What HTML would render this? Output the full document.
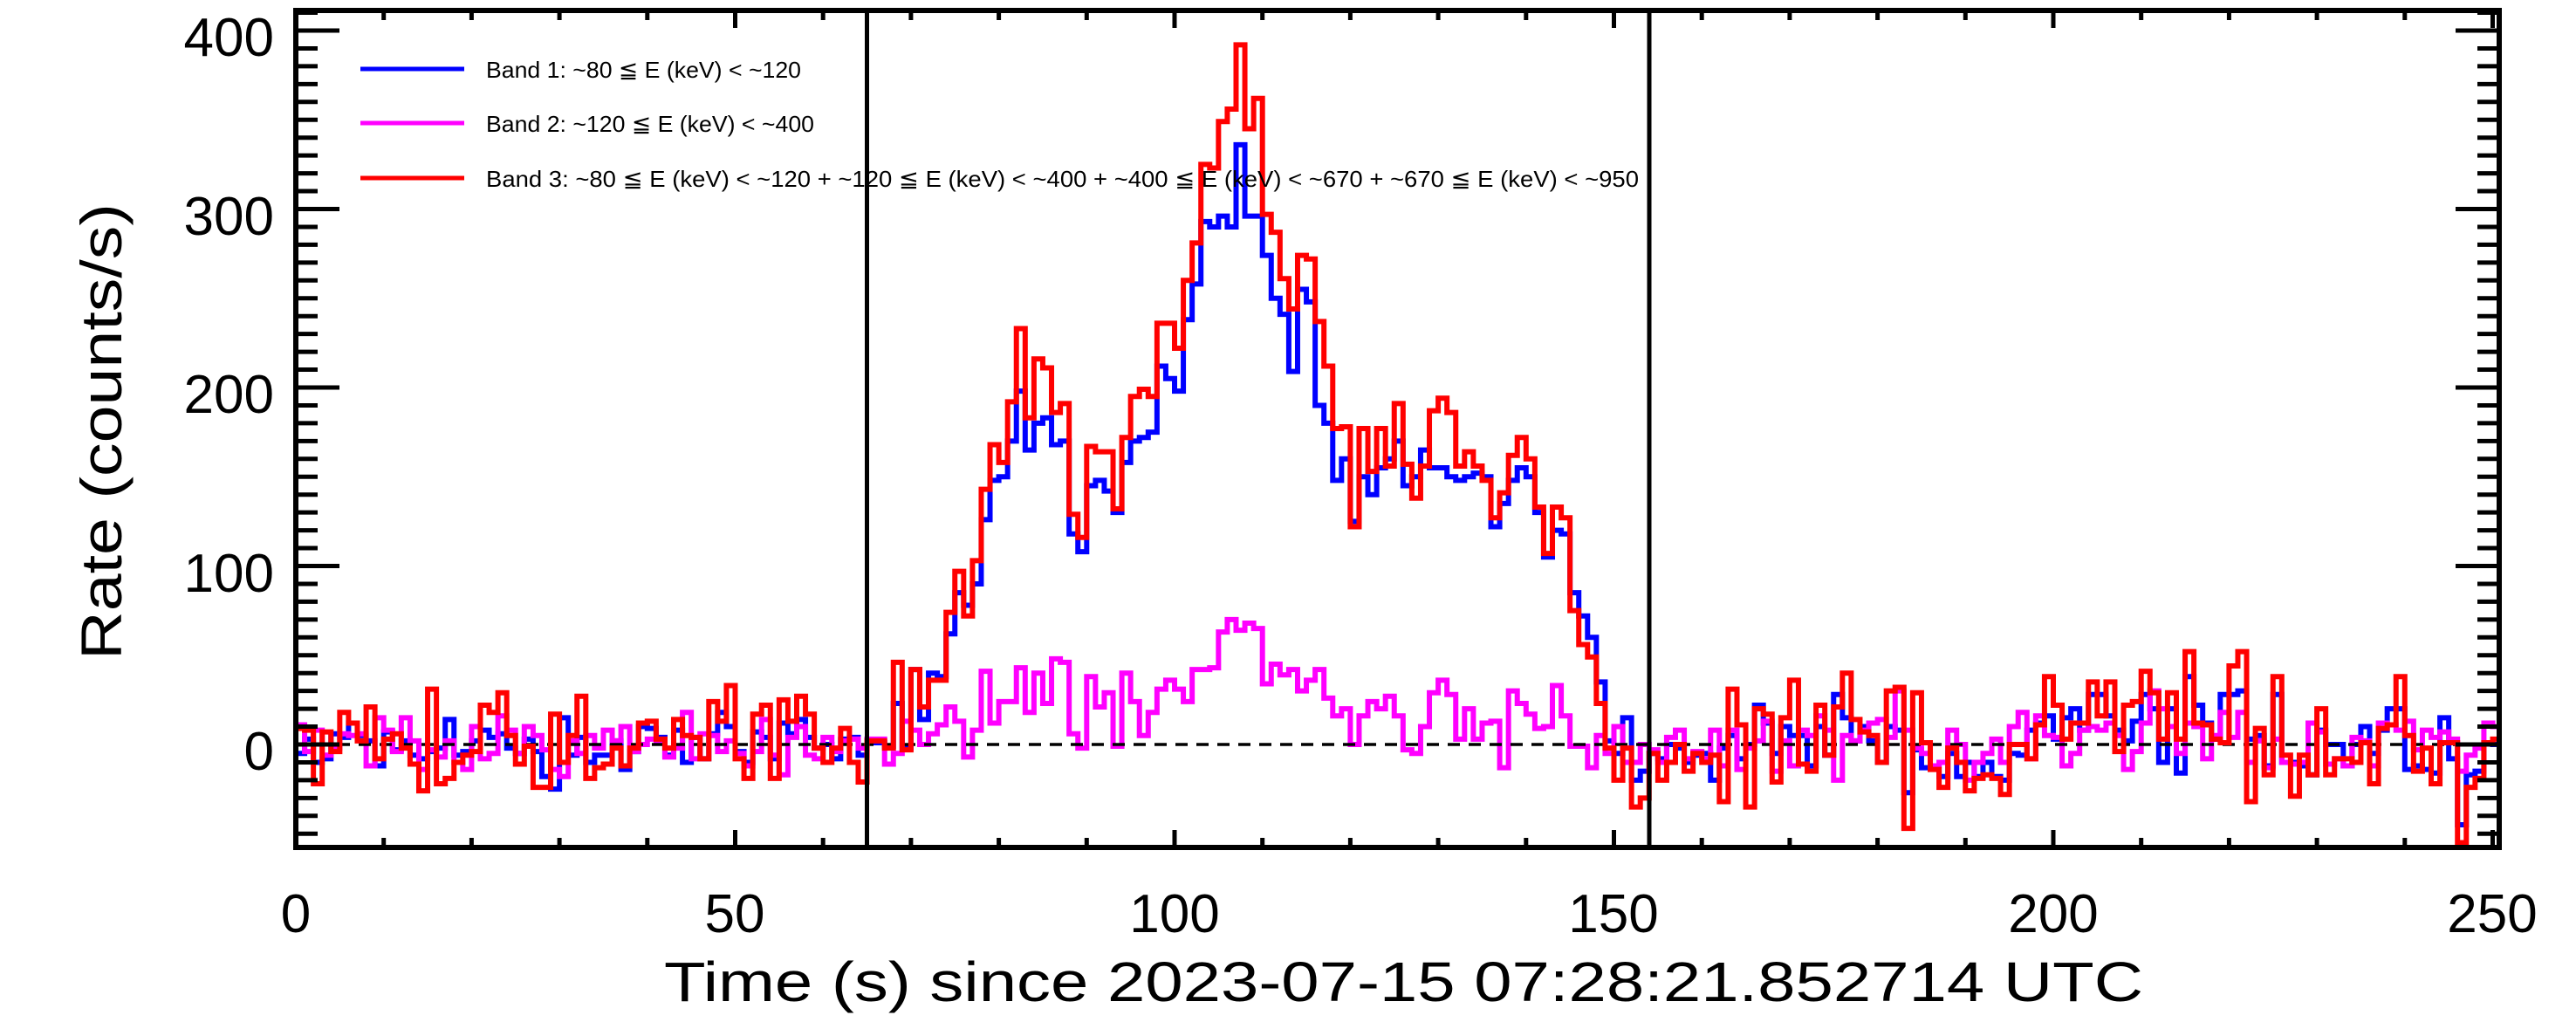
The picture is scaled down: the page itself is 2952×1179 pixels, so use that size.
<!DOCTYPE html>
<html><head><meta charset="utf-8"><style>
html,body{margin:0;padding:0;background:#fff;}
svg{display:block;font-family:"Liberation Sans",sans-serif;}
</style></head><body>
<svg width="2952" height="1179" viewBox="0 0 2952 1179" xmlns="http://www.w3.org/2000/svg">
<defs><clipPath id="c"><rect x="339" y="12" width="2525" height="959"/></clipPath></defs>
<rect width="2952" height="1179" fill="#fff"/>
<g clip-path="url(#c)">
<g transform="translate(339 853) scale(10.07 -2.045)" fill="none" stroke-width="6" stroke-linejoin="miter">
<path vector-effect="non-scaling-stroke" stroke="#0000ff" d="M0 -5H1V3H2V-10H3V-8H4V6H5V4H6V12H7V5H8V2H9V-12H10V7H11V-3H12V2H13V-6H14V-8H15V-4H16V-2H17V14H18V-6H19V-4H20V2H21V8H22V4H23V6H24V-2H25V-5H26V3H27V-4H28V-18H29V-25H30V15H31V-6H32V4H33V-10H34V-6H35V-6H36V2H37V-14H38V-4H39V10H40V9H41V4H42V-6H43V8H44V-10H45V4H46V-8H47V6H48V18H49V10H50V-4H51V-10H52V7H53V4H54V-8H55V12H56V6H57V14H58V4H59V-2H60V0H61V-8H62V3H63V4H64V-6H65V1H66V1H67V-1H68V23H69V-2H70V42H71V14H72V40H73V38H74V62H75V85H76V78H77V90H78V126H79V148H80V150H81V170H82V198H83V165H84V180H85V183H86V168H87V170H88V118H89V108H90V145H91V148H92V142H93V130H94V158H95V170H96V172H97V175H98V212H99V205H100V198H101V238H102V258H103V293H104V290H105V296H106V290H107V336H108V296H109V296H110V274H111V250H112V241H113V209H114V255H115V248H116V190H117V180H118V148H119V160H120V125H121V150H122V140H123V155H124V160H125V170H126V145H127V150H128V165H129V155H130V155H131V150H132V148H133V150H134V152H135V150H136V122H137V135H138V148H139V155H140V150H141V130H142V105H143V120H144V118H145V85H146V72H147V60H148V35H149V2H150V-5H151V15H152V-20H153V-15H154V-5H155V-8H156V0H157V-2H158V-10H159V-6H160V-5H161V-20H162V-2H163V5H164V-8H165V0H166V22H167V12H168V-5H169V10H170V5H171V5H172V-12H173V10H174V-6H175V28H176V15H177V2H178V10H179V2H180V-10H181V10H182V8H183V-27H184V-3H185V-13H186V-13H187V-18H188V-5H189V-18H190V-10H191V-18H192V-10H193V-18H194V-20H195V-5H196V-6H197V8H198V12H199V16H200V3H201V15H202V20H203V8H204V28H205V28H206V16H207V8H208V2H209V13H210V28H211V20H212V-10H213V20H214V-16H215V38H216V22H217V12H218V3H219V28H220V28H221V30H222V3H223V5H224V-12H225V28H226V-10H227V-10H228V-12H229V-17H230V8H231V0H232V0H233V-12H234V0H235V10H236V-5H237V8H238V20H239V20H240V-14H241V-12H242V-14H243V-16H244V15H245V-8H246V-45H247V-17H248V-15H249V1H250V0H251"/>
<path vector-effect="non-scaling-stroke" stroke="#ff00ff" d="M0 11H1V-4H2V8H3V-6H4V-2H5V6H6V5H7V6H8V-12H9V15H10V8H11V-4H12V15H13V2H14V-14H15V-3H16V-7H17V2H18V-10H19V-14H20V10H21V-8H22V-5H23V16H24V8H25V-5H26V10H27V5H28V-3H29V-14H30V-18H31V2H32V-5H33V5H34V-2H35V8H36V2H37V10H38V-4H39V0H40V3H41V2H42V-7H43V-2H44V18H45V-8H46V6H47V5H48V-4H49V2H50V-5H51V-12H52V-4H53V14H54V-6H55V-17H56V4H57V10H58V-6H59V-8H60V4H61V-4H62V2H63V3H64V-2H65V3H66V3H67V-11H68V-5H69V13H70V8H71V0H72V6H73V11H74V21H75V13H76V-7H77V8H78V41H79V12H80V24H81V24H82V43H83V18H84V40H85V23H86V48H87V46H88V6H89V-2H90V38H91V21H92V29H93V-1H94V40H95V24H96V5H97V18H98V31H99V36H100V31H101V24H102V42H103V42H104V43H105V63H106V70H107V64H108V68H109V65H110V34H111V45H112V39H113V42H114V30H115V36H116V42H117V26H118V16H119V20H120V0H121V16H122V24H123V20H124V27H125V16H126V-3H127V-5H128V10H129V29H130V36H131V28H132V3H133V20H134V3H135V12H136V13H137V-13H138V30H139V23H140V17H141V9H142V10H143V33H144V16H145V-1H146V-1H147V-13H148V5H149V-5H150V10H151V-10H152V-10H153V0H154V-3H155V-10H156V4H157V8H158V-8H159V-4H160V-8H161V8H162V-12H163V8H164V-14H165V-2H166V2H167V13H168V-15H169V2H170V-12H171V8H172V5H173V16H174V8H175V-20H176V5H177V2H178V8H179V12H180V14H181V4H182V30H183V8H184V-2H185V-5H186V-12H187V-10H188V8H189V0H190V-20H191V-10H192V-5H193V3H194V-10H195V10H196V18H197V-8H198V16H199V5H200V4H201V-12H202V-5H203V8H204V10H205V8H206V12H207V5H208V-14H209V-4H210V12H211V30H212V20H213V10H214V-5H215V12H216V10H217V-8H218V5H219V18H220V4H221V18H222V-10H223V2H224V-13H225V3H226V-10H227V-11H228V-10H229V12H230V7H231V-11H232V-8H233V-12H234V4H235V2H236V-12H237V12H238V11H239V8H240V13H241V-3H242V8H243V4H244V7H245V3H246V-15H247V-6H248V-2H249V12H250V10H251"/>
<path vector-effect="non-scaling-stroke" stroke="#000" stroke-width="3.5" stroke-dasharray="14 10" d="M0 0H251"/>
<path vector-effect="non-scaling-stroke" stroke="#ff0000" d="M0 9H1V8H2V-22H3V7H4V-4H5V18H6V12H7V2H8V21H9V-8H10V3H11V6H12V-2H13V-11H14V-26H15V31H16V-22H17V-19H18V-10H19V-6H20V-4H21V22H22V18H23V29H24V5H25V-11H26V-1H27V-24H28V-24H29V17H30V-10H31V5H32V27H33V-19H34V-13H35V-11H36V-2H37V-12H38V-2H39V12H40V13H41V3H42V-2H43V14H44V5H45V4H46V-8H47V24H48V13H49V33H50V-8H51V-19H52V17H53V22H54V-19H55V25H56V13H57V27H58V17H59V-2H60V-10H61V-2H62V9H63V-10H64V-21H65V2H66V2H67V-2H68V46H69V-3H70V42H71V21H72V36H73V36H74V74H75V97H76V72H77V103H78V143H79V168H80V158H81V192H82V233H83V183H84V216H85V211H86V186H87V191H88V129H89V116H90V167H91V164H92V164H93V132H94V172H95V195H96V199H97V195H98V236H99V236H100V222H101V260H102V281H103V325H104V323H105V349H106V356H107V392H108V345H109V362H110V297H111V287H112V261H113V244H114V274H115V272H116V237H117V212H118V177H119V178H120V122H121V177H122V153H123V177H124V156H125V191H126V157H127V138H128V156H129V187H130V194H131V186H132V156H133V164H134V156H135V148H136V127H137V141H138V162H139V172H140V160H141V133H142V107H143V133H144V127H145V75H146V56H147V49H148V23H149V-2H150V-20H151V-2H152V-35H153V-30H154V-5H155V-20H156V-10H157V0H158V-15H159V-5H160V-10H161V-6H162V-32H163V31H164V11H165V-35H166V20H167V17H168V-21H169V15H170V36H171V-11H172V-15H173V22H174V-6H175V21H176V40H177V14H178V7H179V5H180V-10H181V30H182V32H183V-47H184V29H185V1H186V-14H187V-24H188V-2H189V-10H190V-26H191V-19H192V-17H193V-19H194V-28H195V0H196V0H197V-8H198V11H199V38H200V22H201V3H202V12H203V12H204V35H205V16H206V35H207V-4H208V22H209V24H210V41H211V29H212V3H213V29H214V3H215V52H216V12H217V11H218V3H219V1H220V44H221V52H222V-32H223V9H224V-17H225V38H226V-6H227V-29H228V-6H229V-17H230V20H231V-17H232V-8H233V-8H234V-10H235V1H236V-22H237V9H238V11H239V38H240V5H241V-15H242V-2H243V-22H244V1H245V1H246V-55H247V-24H248V-19H249V1H250V3H251"/>
</g>
</g>
<g fill="none" stroke="#000" stroke-width="5">
<path d="M339 955.25h25m-25 -20.45h25m-25 -20.45h25m-25 -20.45h25m-25 -20.45h25m-25 -20.45h50m-50 -20.45h25m-25 -20.45h25m-25 -20.45h25m-25 -20.45h25m-25 -20.45h25m-25 -20.45h25m-25 -20.45h25m-25 -20.45h25m-25 -20.45h25m-25 -20.45h50m-50 -20.45h25m-25 -20.45h25m-25 -20.45h25m-25 -20.45h25m-25 -20.45h25m-25 -20.45h25m-25 -20.45h25m-25 -20.45h25m-25 -20.45h25m-25 -20.45h50m-50 -20.45h25m-25 -20.45h25m-25 -20.45h25m-25 -20.45h25m-25 -20.45h25m-25 -20.45h25m-25 -20.45h25m-25 -20.45h25m-25 -20.45h25m-25 -20.45h50m-50 -20.45h25m-25 -20.45h25m-25 -20.45h25m-25 -20.45h25m-25 -20.45h25m-25 -20.45h25m-25 -20.45h25m-25 -20.45h25m-25 -20.45h25m-25 -20.45h50m-50 -20.45h25"/>
<path d="M2864 955.25h-25m25 -20.45h-25m25 -20.45h-25m25 -20.45h-25m25 -20.45h-25m25 -20.45h-50m50 -20.45h-25m25 -20.45h-25m25 -20.45h-25m25 -20.45h-25m25 -20.45h-25m25 -20.45h-25m25 -20.45h-25m25 -20.45h-25m25 -20.45h-25m25 -20.45h-50m50 -20.45h-25m25 -20.45h-25m25 -20.45h-25m25 -20.45h-25m25 -20.45h-25m25 -20.45h-25m25 -20.45h-25m25 -20.45h-25m25 -20.45h-25m25 -20.45h-50m50 -20.45h-25m25 -20.45h-25m25 -20.45h-25m25 -20.45h-25m25 -20.45h-25m25 -20.45h-25m25 -20.45h-25m25 -20.45h-25m25 -20.45h-25m25 -20.45h-50m50 -20.45h-25m25 -20.45h-25m25 -20.45h-25m25 -20.45h-25m25 -20.45h-25m25 -20.45h-25m25 -20.45h-25m25 -20.45h-25m25 -20.45h-25m25 -20.45h-50m50 -20.45h-25"/>
<path d="M339 971v-20m100.7 20v-11m100.7 11v-11m100.7 11v-11m100.7 11v-11m100.7 11v-20m100.7 20v-11m100.7 11v-11m100.7 11v-11m100.7 11v-11m100.7 11v-20m100.7 20v-11m100.7 11v-11m100.7 11v-11m100.7 11v-11m100.7 11v-20m100.7 20v-11m100.7 11v-11m100.7 11v-11m100.7 11v-11m100.7 11v-20m100.7 20v-11m100.7 11v-11m100.7 11v-11m100.7 11v-11m100.7 11v-20"/>
<path d="M339 12v20m100.7 -20v11m100.7 -11v11m100.7 -11v11m100.7 -11v11m100.7 -11v20m100.7 -20v11m100.7 -11v11m100.7 -11v11m100.7 -11v11m100.7 -11v20m100.7 -20v11m100.7 -11v11m100.7 -11v11m100.7 -11v11m100.7 -11v20m100.7 -20v11m100.7 -11v11m100.7 -11v11m100.7 -11v11m100.7 -11v20m100.7 -20v11m100.7 -11v11m100.7 -11v11m100.7 -11v11m100.7 -11v20"/>
</g>
<rect x="339" y="12" width="2525" height="959" fill="none" stroke="#000" stroke-width="6"/>
<line x1="993.5" y1="12" x2="993.5" y2="971" stroke="#000" stroke-width="5"/>
<line x1="1890" y1="12" x2="1890" y2="971" stroke="#000" stroke-width="5"/>
<g font-size="62" fill="#000" text-anchor="end">
<text x="314" y="64">400</text><text x="314" y="269">300</text><text x="314" y="473">200</text><text x="314" y="678">100</text><text x="314" y="882">0</text>
</g>
<g font-size="62" fill="#000" text-anchor="middle">
<text x="339" y="1068">0</text><text x="842" y="1068">50</text><text x="1346" y="1068">100</text><text x="1849" y="1068">150</text><text x="2353" y="1068">200</text><text x="2856" y="1068">250</text>
</g>
<text x="761" y="1147" font-size="64" textLength="1695" lengthAdjust="spacingAndGlyphs">Time (s) since 2023-07-15 07:28:21.852714 UTC</text>
<text transform="translate(139,756) rotate(-90)" font-size="66" textLength="523" lengthAdjust="spacingAndGlyphs">Rate (counts/s)</text>
<g stroke-width="5">
<line x1="413" y1="79" x2="532" y2="79" stroke="#0000ff"/>
<line x1="413" y1="141" x2="532" y2="141" stroke="#ff00ff"/>
<line x1="413" y1="204" x2="532" y2="204" stroke="#ff0000"/>
</g>
<g font-size="26" fill="#000">
<text x="557" y="89" textLength="361" lengthAdjust="spacingAndGlyphs">Band 1: ~80 ≦ E (keV) &lt; ~120</text>
<text x="557" y="151" textLength="376" lengthAdjust="spacingAndGlyphs">Band 2: ~120 ≦ E (keV) &lt; ~400</text>
<text x="557" y="214" textLength="1321" lengthAdjust="spacingAndGlyphs">Band 3: ~80 ≦ E (keV) &lt; ~120 + ~120 ≦ E (keV) &lt; ~400 + ~400 ≦ E (keV) &lt; ~670 + ~670 ≦ E (keV) &lt; ~950</text>
</g>
</svg>
</body></html>
